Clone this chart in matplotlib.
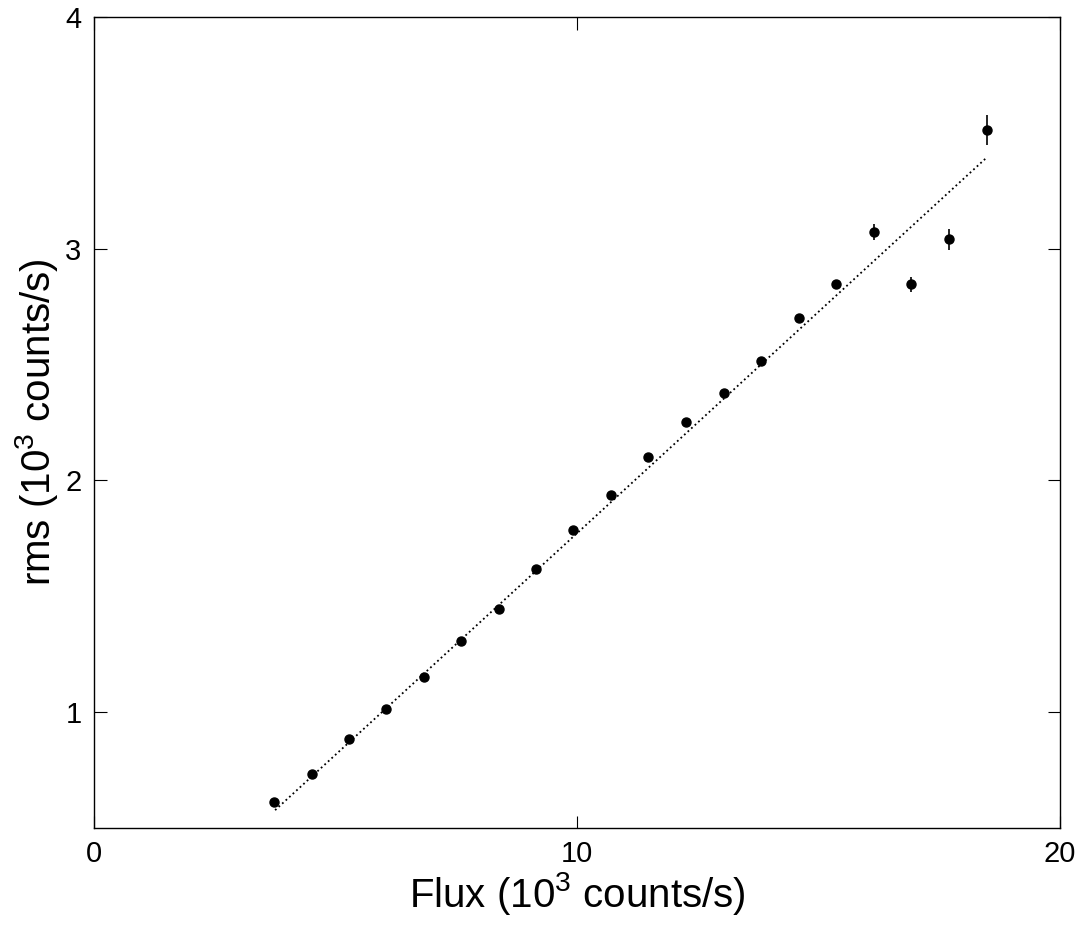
import matplotlib

matplotlib.use("Agg")
import matplotlib.pyplot as plt
import numpy as np

plt.rcParams["font.family"] = ["Liberation Sans", "DejaVu Sans"]
plt.rcParams["mathtext.fontset"] = "custom"
plt.rcParams["mathtext.rm"] = "Liberation Sans"

# flux (10^3 counts/s) and rms (10^3 counts/s)
flux = [3.73, 4.51, 5.28, 6.05, 6.83, 7.60, 8.39, 9.15, 9.92, 10.70,
        11.47, 12.26, 13.04, 13.81, 14.60, 15.36, 16.15, 16.92, 17.70, 18.49]
rms = [0.612, 0.734, 0.886, 1.014, 1.152, 1.305, 1.443, 1.616, 1.785, 1.937,
       2.101, 2.253, 2.377, 2.515, 2.703, 2.846, 3.072, 2.847, 3.041, 3.512]
rms_err = [0.008, 0.008, 0.008, 0.008, 0.009, 0.009, 0.010, 0.010, 0.011, 0.011,
           0.012, 0.013, 0.013, 0.014, 0.015, 0.020, 0.033, 0.032, 0.045, 0.063]

# linear fit endpoints
fit_x = [3.75, 18.49]
fit_y = [0.577, 3.395]

fig = plt.figure(figsize=(10.9, 9.34), dpi=100)
ax = fig.add_axes([0.0862, 0.1135, 0.8863, 0.8683])

ax.plot(fit_x, fit_y, color="black", linestyle=":", linewidth=1.3)
ax.errorbar(flux, rms, yerr=rms_err, fmt="o", color="black", markersize=6.5,
            elinewidth=1.2, capsize=0)

ax.set_xlim(0, 20)
ax.set_ylim(0.5, 4)
ax.set_xticks([0, 10, 20])
ax.set_yticks([1, 2, 3, 4])
ax.tick_params(direction="in", top=True, right=True, length=9, width=0.8,
               labelsize=21, pad=9)
for s in ax.spines.values():
    s.set_linewidth(1.0)

ax.set_xlabel("Flux (10$^3$ counts/s)", fontsize=29, labelpad=1)
ax.set_ylabel("rms (10$^3$ counts/s)", fontsize=29, labelpad=4)

fig.savefig("out.png", dpi=100)
plt.close(fig)
